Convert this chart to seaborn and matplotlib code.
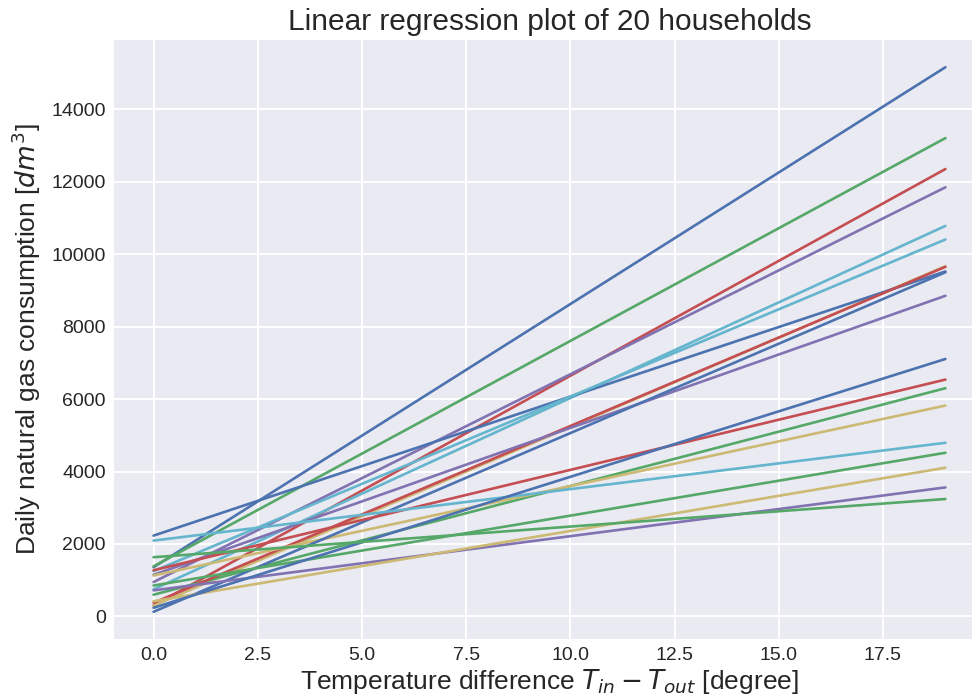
import matplotlib
matplotlib.use("Agg")
import matplotlib.pyplot as plt
import numpy as np
import pandas as pd
import seaborn as sns

# ---- data ----
households = [f"H{i + 1}" for i in range(20)]
x_ends = [0, 19]
start_values = [1359, 1384, 303, 950, 300, 750,
                2231, 600, 376, 1150, 1129, 1250,
                129, 854, 1276, 720, 420, 2094,
                239, 1635]
end_values = [15160, 13204, 12350, 11846, 9669, 10780,
              9523, 6300, 9650, 8851, 5821, 10405,
              9500, 4518, 6538, 3562, 4105, 4793,
              7107, 3242]
y_ticks = [0, 2000, 4000, 6000, 8000, 10000, 12000, 14000]

old_deep = ["#4C72B0", "#55A868", "#C44E52", "#8172B2", "#CCB974", "#64B5CD"]

rows = []
for h, s, e in zip(households, start_values, end_values):
    rows.append({"household": h, "dT": x_ends[0], "gas": s})
    rows.append({"household": h, "dT": x_ends[1], "gas": e})
df = pd.DataFrame(rows)

sns.set_theme(style="darkgrid", rc={
    "axes.facecolor": "#EAEAF2",
    "grid.color": "white",
    "grid.linewidth": 1.4,
    "axes.edgecolor": "white",
})
plt.rcParams["font.family"] = ["Liberation Sans", "DejaVu Sans"]
plt.rcParams["mathtext.fontset"] = "dejavusans"

fig = plt.figure(figsize=(9.72, 6.99), dpi=100)
ax = fig.add_axes([114 / 972, (699 - 639) / 699, (985 - 114) / 972, (639 - 40) / 699])

palette = [old_deep[i % 6] for i in range(len(households))]
sns.lineplot(data=df, x="dT", y="gas", hue="household", palette=palette,
             linewidth=1.9, legend=False, ax=ax)

for sp in ax.spines.values():
    sp.set_visible(False)
ax.set_yticks(y_ticks)
ax.tick_params(axis="both", labelsize=14, length=0, pad=6)
ax.set_title("Linear regression plot of 20 households", fontsize=21.5, pad=7)
ax.set_xlabel(r"Temperature difference $T_{in} - T_{out}$ [degree]", fontsize=19, labelpad=2)
ax.set_ylabel(r"Daily natural gas consumption [$dm^3$]", fontsize=19, labelpad=6)

fig.savefig("out.png", dpi=100)
